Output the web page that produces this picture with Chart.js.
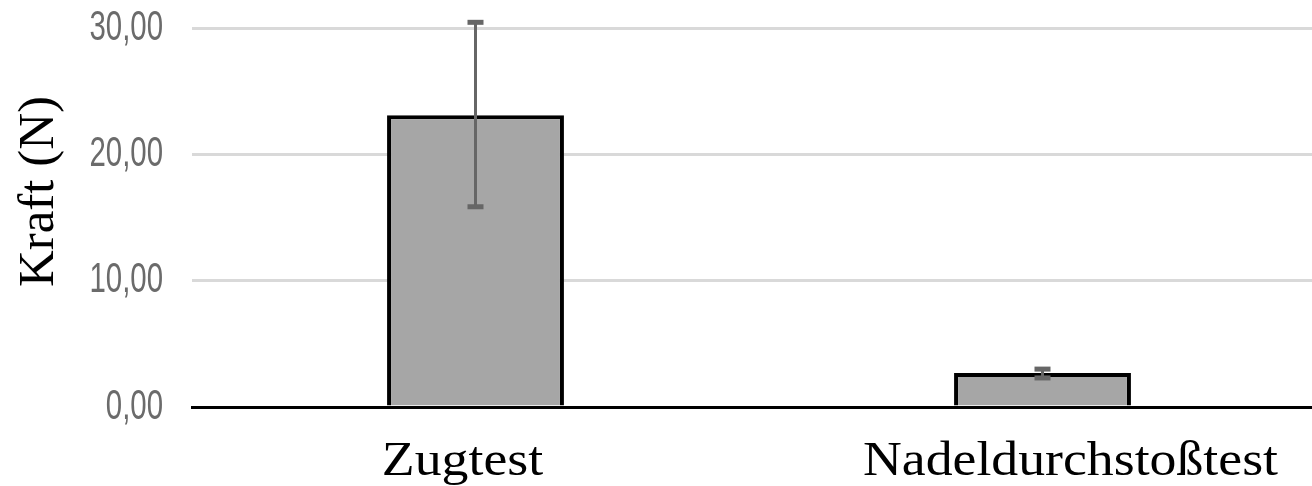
<!DOCTYPE html>
<html lang="de">
<head>
<meta charset="utf-8">
<script src="https://cdn.jsdelivr.net/npm/chart.js@4"></script>
<style>
    html, body { margin: 0; padding: 0; background: #fff; overflow: hidden; }
    .chart-box { width: 1326px; height: 486px; }
</style>
</head>
<body>
<div class="chart-box"><canvas id="kraftChart"></canvas></div>
<script>
// --- DATEN ---
const kategorien = ["Zugtest", "Nadeldurchstoßtest"];
const mittelwerte = [23.1, 2.7];
const fehlerUnten = [15.85, 2.3];
const fehlerOben = [30.45, 3.0];
const yTicks = [0, 10, 20, 30];
const yTitel = "Kraft (N)";

document.addEventListener("DOMContentLoaded", () => {
    const formatZahl = (v) => Number(v).toFixed(2).replace('.', ',');
    const sans = '"Liberation Sans", Arial, sans-serif';
    const serif = '"Liberation Serif", "DejaVu Serif", serif';

    // --- FEHLERBALKEN (über die Skalen des Diagramms) ---
    const fehlerbalken = {
        id: 'fehlerbalken',
        afterDatasetsDraw(chart) {
            const { ctx, scales: { x, y } } = chart;
            ctx.save();
            ctx.strokeStyle = '#666666';
            ctx.fillStyle = '#666666';
            ctx.lineWidth = 3;
            kategorien.forEach((k, i) => {
                const px = x.getPixelForValue(i);
                const yo = y.getPixelForValue(fehlerOben[i]);
                const yu = y.getPixelForValue(fehlerUnten[i]);
                ctx.beginPath();
                ctx.moveTo(px, yo);
                ctx.lineTo(px, yu);
                ctx.stroke();
                ctx.fillRect(px - 8, yo - 2.5, 16, 5);
                ctx.fillRect(px - 8, yu - 2.5, 16, 5);
            });
            ctx.restore();
        }
    };

    // --- BESCHRIFTUNGEN (gestauchte/gedehnte Schrift wie im Original) ---
    const beschriftung = {
        id: 'beschriftung',
        afterDraw(chart) {
            const { ctx, chartArea, scales: { x, y } } = chart;
            ctx.save();

            // Y-Ticks
            ctx.font = '42px ' + sans;
            ctx.fillStyle = '#6b6b6b';
            ctx.textAlign = 'right';
            ctx.textBaseline = 'middle';
            y.ticks.forEach(t => {
                ctx.save();
                ctx.translate(chartArea.left - 29, y.getPixelForValue(t.value));
                ctx.scale(0.7, 1);
                ctx.fillText(formatZahl(t.value), 0, 0);
                ctx.restore();
            });

            // X-Kategorien (im Original leicht neben der Balkenmitte)
            const versatz = [-13, 28];
            ctx.font = '48px ' + serif;
            ctx.fillStyle = '#000';
            ctx.textAlign = 'center';
            ctx.textBaseline = 'alphabetic';
            kategorien.forEach((k, i) => {
                ctx.save();
                ctx.translate(x.getPixelForValue(i) + versatz[i], chartArea.bottom + 68);
                ctx.scale(1.12, 1);
                ctx.fillText(k, 0, 0);
                ctx.restore();
            });

            // Y-Achsentitel
            ctx.save();
            ctx.translate(53, (chartArea.top + chartArea.bottom) / 2 - 26);
            ctx.rotate(-Math.PI / 2);
            ctx.font = '51px ' + serif;
            ctx.fillText(yTitel, 0, 0);
            ctx.restore();

            ctx.restore();
        }
    };

    const canvas = document.getElementById('kraftChart');
    new Chart(canvas, {
        type: 'bar',
        data: {
            labels: kategorien,
            datasets: [{
                data: mittelwerte,
                backgroundColor: '#a6a6a6',
                borderColor: '#000',
                borderWidth: 4,
                barPercentage: 0.312,
                categoryPercentage: 1
            }]
        },
        options: {
            responsive: true,
            maintainAspectRatio: false,
            animation: false,
            layout: { padding: { top: 28, right: 0, bottom: 0, left: 0 } },
            plugins: { legend: { display: false }, tooltip: { enabled: false } },
            scales: {
                x: {
                    grid: { display: false, drawTicks: false },
                    border: { display: true, color: '#000', width: 3 },
                    ticks: { display: false },
                    afterFit: (s) => { s.height = 79; }
                },
                y: {
                    min: 0,
                    max: 30,
                    afterBuildTicks: (s) => { s.ticks = yTicks.map(v => ({ value: v })); },
                    afterFit: (s) => { s.width = 192; },
                    border: { display: false },
                    grid: {
                        color: (c) => c.tick && c.tick.value === 0 ? '#000' : '#d9d9d9',
                        lineWidth: 3,
                        drawTicks: false
                    },
                    ticks: { display: false }
                }
            }
        },
        plugins: [fehlerbalken, beschriftung]
    });
});
</script>
</body>
</html>
